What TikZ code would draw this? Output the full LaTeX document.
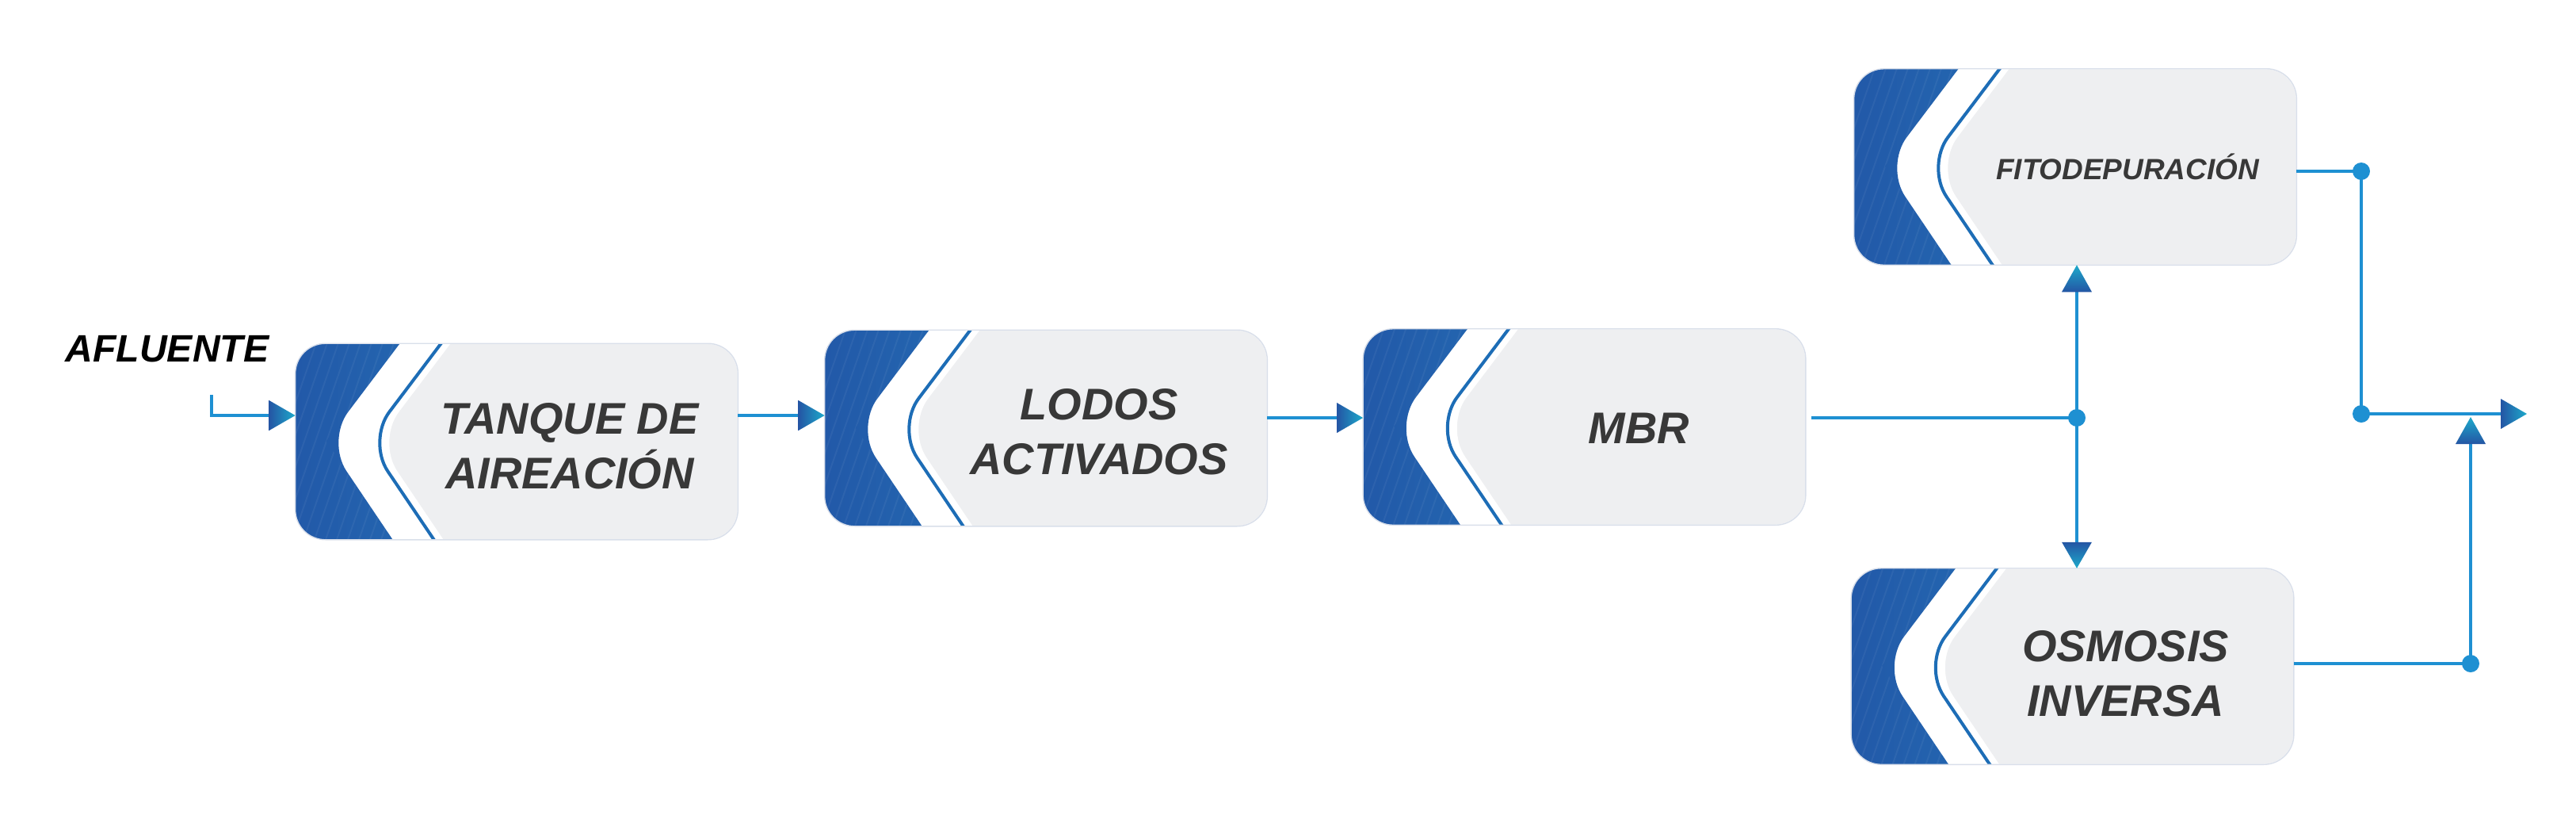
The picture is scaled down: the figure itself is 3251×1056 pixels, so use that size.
\documentclass[tikz,border=0pt]{standalone}
\usepackage{fontspec}
\setmainfont{Liberation Sans}
\usetikzlibrary{calc}
\definecolor{linec}{HTML}{1E90D2}
\definecolor{bluedk}{HTML}{2150A3}
\definecolor{bluelt}{HTML}{246BB3}
\definecolor{thinc}{HTML}{1D6DB6}
\definecolor{boxg}{HTML}{EEEFF1}
\definecolor{boxedge}{HTML}{D9DFEA}
\definecolor{arrdk}{HTML}{2455A4}
\definecolor{arrtl}{HTML}{1DAACB}
\definecolor{txt}{HTML}{383838}
\newcommand{\arrR}[1]{\shade[left color=arrdk, right color=arrtl] ($(#1)+(-33,-19)$) -- (#1) -- ($(#1)+(-33,19)$) -- cycle;}
\newcommand{\arrU}[1]{\shade[bottom color=arrdk, top color=arrtl] ($(#1)+(-19,34)$) -- (#1) -- ($(#1)+(19,34)$) -- cycle;}
\newcommand{\arrD}[1]{\shade[top color=arrdk, bottom color=arrtl] ($(#1)+(-19,-33)$) -- (#1) -- ($(#1)+(19,-33)$) -- cycle;}
\newcommand{\boxdeco}[1]{%
  \begin{scope}
    \clip[rounded corners=0.38cm] (#1.north west) rectangle (#1.south east);
    \begin{scope}[shift={(#1.north west)}, rounded corners=0.46cm]
      \fill[white] (-100,-100) -- (271.6,-100) -- (103,123) -- (253.5,346) -- (-100,346) -- cycle;
      \shade[left color=bluedk, right color=bluelt] (-100,-100) -- (207.6,-100) -- (39,123) -- (189.5,346) -- (-100,346) -- cycle;
      \begin{scope}[sharp corners]
        \clip (-100,-100) -- (207.6,-100) -- (39,123) -- (189.5,346) -- (-100,346) -- cycle;
        \foreach \k in {-120,-106,...,200} {\draw[white, opacity=0.05, line width=0.02cm] (\k,260) -- (\k+95,-14);}
      \end{scope}
      \draw[thinc, line width=0.04cm] (259.6,-100) -- (91,123) -- (241.5,346);
    \end{scope}
  \end{scope}
  \draw[boxedge, line width=0.4pt, rounded corners=0.38cm] (#1.north west) rectangle (#1.south east);
}
\tikzset{
  conn/.style={draw=linec, line width=0.04cm},
  dot/.style={circle, fill=linec, inner sep=0, minimum size=0.22cm},
  procbox/.style={rectangle, rounded corners=0.38cm, minimum width=5.57cm,
    minimum height=2.46cm, inner sep=0, fill=boxg},
  boxtxt/.style={font=\fontsize{15.9}{19.6}\selectfont\bfseries\itshape, text=txt, align=center, inner sep=0},
}
\begin{document}
\begin{tikzpicture}[x=0.01cm, y=-0.01cm]
\fill[white] (0,0) rectangle (3251,1056);
\useasboundingbox (0,0) rectangle (3251,1056);

% boxes
\node[procbox] (b1) at (652,557) {};
\node[procbox] (b2) at (1320,540) {};
\node[procbox] (b3) at (1999.5,538.5) {};
\node[procbox] (b4) at (2619,210.5) {};
\node[procbox] (b5) at (2615.5,840.5) {};
\boxdeco{b1}
\boxdeco{b2}
\boxdeco{b3}
\boxdeco{b4}
\boxdeco{b5}

% texts
\node[boxtxt] (t1) at ($(b1.center)+(67,6)$) {TANQUE DE\\AIREACIÓN};
\node[boxtxt] (t2) at ($(b2.center)+(67,5)$) {LODOS\\ACTIVADOS};
\node[boxtxt] (t3) at ($(b3.center)+(69,2)$) {MBR};
\node[boxtxt, font=\fontsize{10.5}{12}\selectfont\bfseries\itshape] (t4) at ($(b4.center)+(66,0)$) {FITODEPURACIÓN};
\node[boxtxt] (t5) at ($(b5.center)+(67,9)$) {OSMOSIS\\INVERSA};
\node[font=\fontsize{13.7}{16}\selectfont\bfseries\itshape, text=black, inner sep=0] (afl) at (211,440) {AFLUENTE};

% coordinates
\coordinate (a0) at (267,498);
\coordinate (rA) at (0,524);
\coordinate (rB) at (0,527);
\coordinate (tp1) at (b1.west |- rA);
\coordinate (tp2) at (b2.west |- rA);
\coordinate (tp3) at (b3.west |- rB);
\node[dot] (j1) at (2621,527) {};
\node[dot] (j2) at (2980,216) {};
\node[dot] (j3) at (2980,522) {};
\node[dot] (j4) at (3118,837) {};
\coordinate (tpU) at (j1 |- b4.south);
\coordinate (tpD) at (j1 |- b5.north);
\coordinate (out) at (3189,522);
\coordinate (tpU2) at (3118,526);

% connectors
\draw[conn] (a0) |- ([xshift=-0.33cm]tp1);
\arrR{tp1}
\draw[conn] (b1.east |- rA) -- ([xshift=-0.33cm]tp2);
\arrR{tp2}
\draw[conn] (b2.east |- rB) -- ([xshift=-0.33cm]tp3);
\arrR{tp3}
\draw[conn] ([xshift=0.07cm]b3.east |- j1) -- (j1.center);
\draw[conn] (j1.center) -- ([yshift=-0.34cm]tpU);
\arrU{tpU}
\draw[conn] (j1.center) -- ([yshift=0.33cm]tpD);
\arrD{tpD}
\draw[conn] (b4.east |- j2) -- (j2.center) -- (j3.center) -- ([xshift=-0.33cm]out);
\arrR{out}
\draw[conn] (b5.east |- j4) -- (j4.center) -- ([yshift=-0.34cm]tpU2);
\arrU{tpU2}
\end{tikzpicture}
\end{document}
